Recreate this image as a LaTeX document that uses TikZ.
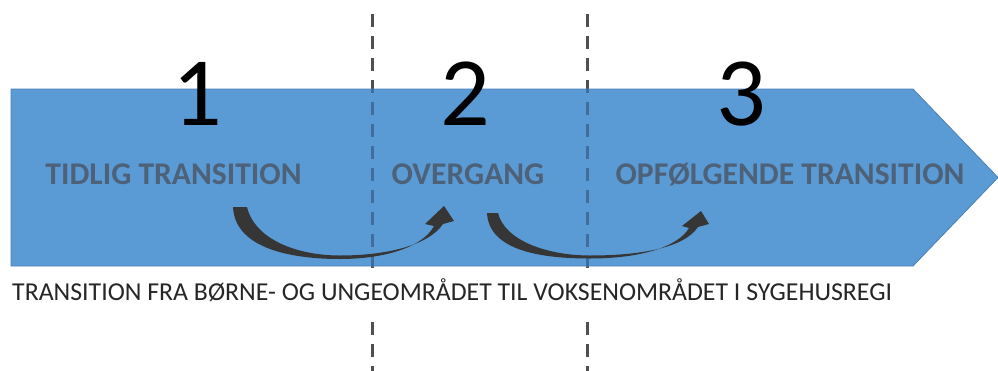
\documentclass[tikz,border=0pt]{standalone}
\usepackage{fontspec}
\setmainfont{Carlito}
\definecolor{arrowblue}{HTML}{5B9BD5}
\definecolor{arrowedge}{HTML}{4A80B8}
\definecolor{labelgray}{HTML}{4D6178}
\definecolor{dashgray}{HTML}{505050}
\definecolor{dashblue}{HTML}{3F6D9C}
\definecolor{curvedark}{HTML}{363636}
\begin{document}
\begin{tikzpicture}[x=1pt,y=-1pt,
  dashline/.style={line width=3pt, dash pattern=on 13pt off 9pt},
  bignum/.style={font=\fontsize{98}{98}\selectfont, text=black, inner sep=0pt, anchor=base},
  phase/.style={font=\bfseries\fontsize{31.6}{32}\selectfont, text=labelgray, inner sep=0pt, anchor=base},
  curvearrow/.style={fill=curvedark, draw=none}]
\useasboundingbox (0,0) rectangle (998,370);
\fill[white] (0,0) rectangle (998,370);
\coordinate (d1top) at (372,14);
\coordinate (d1bot) at (372,372);
\coordinate (d2top) at (587,14);
\coordinate (d2bot) at (587,372);
\draw[dashline,dashgray] (d1top) -- (d1bot);
\draw[dashline,dashgray] (d2top) -- (d2bot);
% big arrow
\path[fill=arrowblue, draw=arrowedge, line width=0.8pt]
  (11,89) -- (913,89) -- (998,177.5) -- (913,266) -- (11,266) -- cycle;
\begin{scope}
  \clip (11,89) -- (913,89) -- (998,177.5) -- (913,266) -- (11,266) -- cycle;
  \draw[dashline,dashblue] (d1top) -- (d1bot);
  \draw[dashline,dashblue] (d2top) -- (d2bot);
\end{scope}
% white band behind bottom text
\fill[white] (0,268) rectangle (930,322);
\node[font=\fontsize{25.8}{26}\selectfont, text=black!85, inner sep=0pt, anchor=base west]
  (subtitle) at (12,300) {TRANSITION FRA BØRNE- OG UNGEOMRÅDET TIL VOKSENOMRÅDET I SYGEHUSREGI};
% curved arrow 1
\path[curvearrow]
  (233,207) .. controls (235,250) and (295,259) .. (340,259)
  .. controls (385,259) and (423,247) .. (434,226)
  -- (425,224) -- (444,206) -- (454,221) -- (443,224)
  .. controls (428,246) and (385,255.5) .. (340,255.5)
  .. controls (298,255.5) and (255,240) .. (247,207) -- cycle;
% curved arrow 2
\path[curvearrow]
  (487,213) .. controls (489,252) and (545,258.5) .. (590,258.5)
  .. controls (640,258.5) and (678,247) .. (689,228)
  -- (682,226) -- (701,211) -- (709,224) -- (698,227)
  .. controls (684,248) and (640,255.5) .. (590,255.5)
  .. controls (548,255.5) and (505,241) .. (498,213) -- cycle;
% numbers
\node[bignum] (n1) at (197,125) {1};
\node[bignum] (n2) at (465,125) {2};
\node[bignum] (n3) at (741,125) {3};
% phase labels
\node[phase] (p1) at (173.5,184) {TIDLIG TRANSITION};
\node[phase] (p2) at (468,184) {OVERGANG};
\node[phase] (p3) at (790,184) {OPFØLGENDE TRANSITION};
\end{tikzpicture}
\end{document}
